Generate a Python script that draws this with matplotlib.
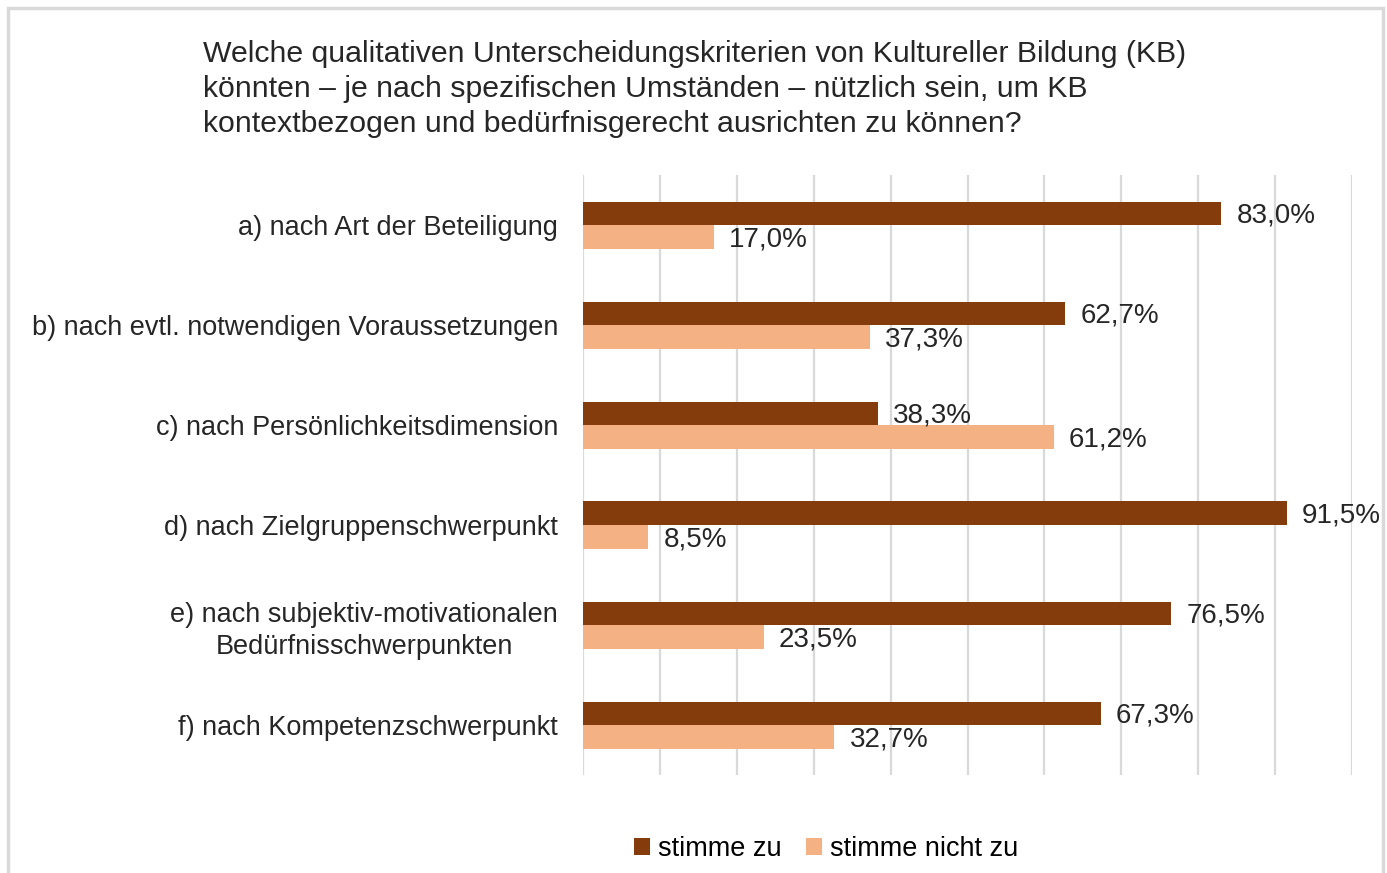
import matplotlib.pyplot as plt
import numpy as np
from matplotlib.patches import Rectangle

plt.rcParams["font.family"] = ["Liberation Sans", "DejaVu Sans"]

title = ("Welche qualitativen Unterscheidungskriterien von Kultureller Bildung (KB)\n"
         "könnten \u2013 je nach spezifischen Umständen \u2013 nützlich sein, um KB\n"
         "kontextbezogen und bedürfnisgerecht ausrichten zu können?")
categories = [
    "a) nach Art der Beteiligung",
    "b) nach evtl. notwendigen Voraussetzungen",
    "c) nach Persönlichkeitsdimension",
    "d) nach Zielgruppenschwerpunkt",
    "e) nach subjektiv-motivationalen\nBedürfnisschwerpunkten",
    "f) nach Kompetenzschwerpunkt",
]
agree = [83.0, 62.7, 38.3, 91.5, 76.5, 67.3]
disagree = [17.0, 37.3, 61.2, 8.5, 23.5, 32.7]
series_names = ["stimme zu", "stimme nicht zu"]
colors = ["#843C0C", "#F4B183"]

fig = plt.figure(figsize=(13.87, 8.73), dpi=100)
ax = fig.add_axes([583 / 1387, 1 - 775 / 873, (1352 - 583) / 1387, 600 / 873])

# light frame around the chart area
fig.patches.append(Rectangle((8 / 1387, -0.01), 1375 / 1387, 1 - 8 / 873 + 0.01,
                             transform=fig.transFigure, fill=False,
                             edgecolor="#D9D9D9", linewidth=2.5))

y = np.arange(len(categories))
h = 0.235
ax.barh(y - h / 2, agree, height=h, color=colors[0], label=series_names[0])
ax.barh(y + h / 2, disagree, height=h, color=colors[1], label=series_names[1])

def fmt(v):
    return f"{v:.1f}%".replace(".", ",")

fs = 19.5
for yi, a, d in zip(y, agree, disagree):
    ax.text(a + 2.0, yi - h / 2 + 0.02, fmt(a), va="center", ha="left",
            fontsize=fs + 0.5, color="#262626")
    ax.text(d + 2.0, yi + h / 2 + 0.03, fmt(d), va="center", ha="left",
            fontsize=fs + 0.5, color="#262626")

ax.set_xlim(0, 100)
ax.set_ylim(len(categories) - 0.5, -0.5)
ax.set_xticks(np.arange(0, 101, 10))
ax.set_xticklabels([])
ax.set_yticks(y)
ax.set_yticklabels(categories, fontsize=fs, color="#262626",
                   multialignment="center", linespacing=1.3)
ax.tick_params(axis="both", length=0, pad=18)
ax.grid(axis="x", color="#D9D9D9", linewidth=1.6)
ax.set_axisbelow(True)
for s in ax.spines.values():
    s.set_visible(False)

fig.text(203 / 1387, 1 - 40 / 873, title, ha="left", va="top", fontsize=21.8,
         color="#262626", linespacing=1.32)

fig.legend(loc="center", bbox_to_anchor=(826 / 1387, 1 - 849 / 873), ncol=2,
           frameon=False, fontsize=fs, handlelength=0.6, handleheight=0.6,
           handletextpad=0.3, columnspacing=0.9)

fig.savefig("out.png", dpi=100)
